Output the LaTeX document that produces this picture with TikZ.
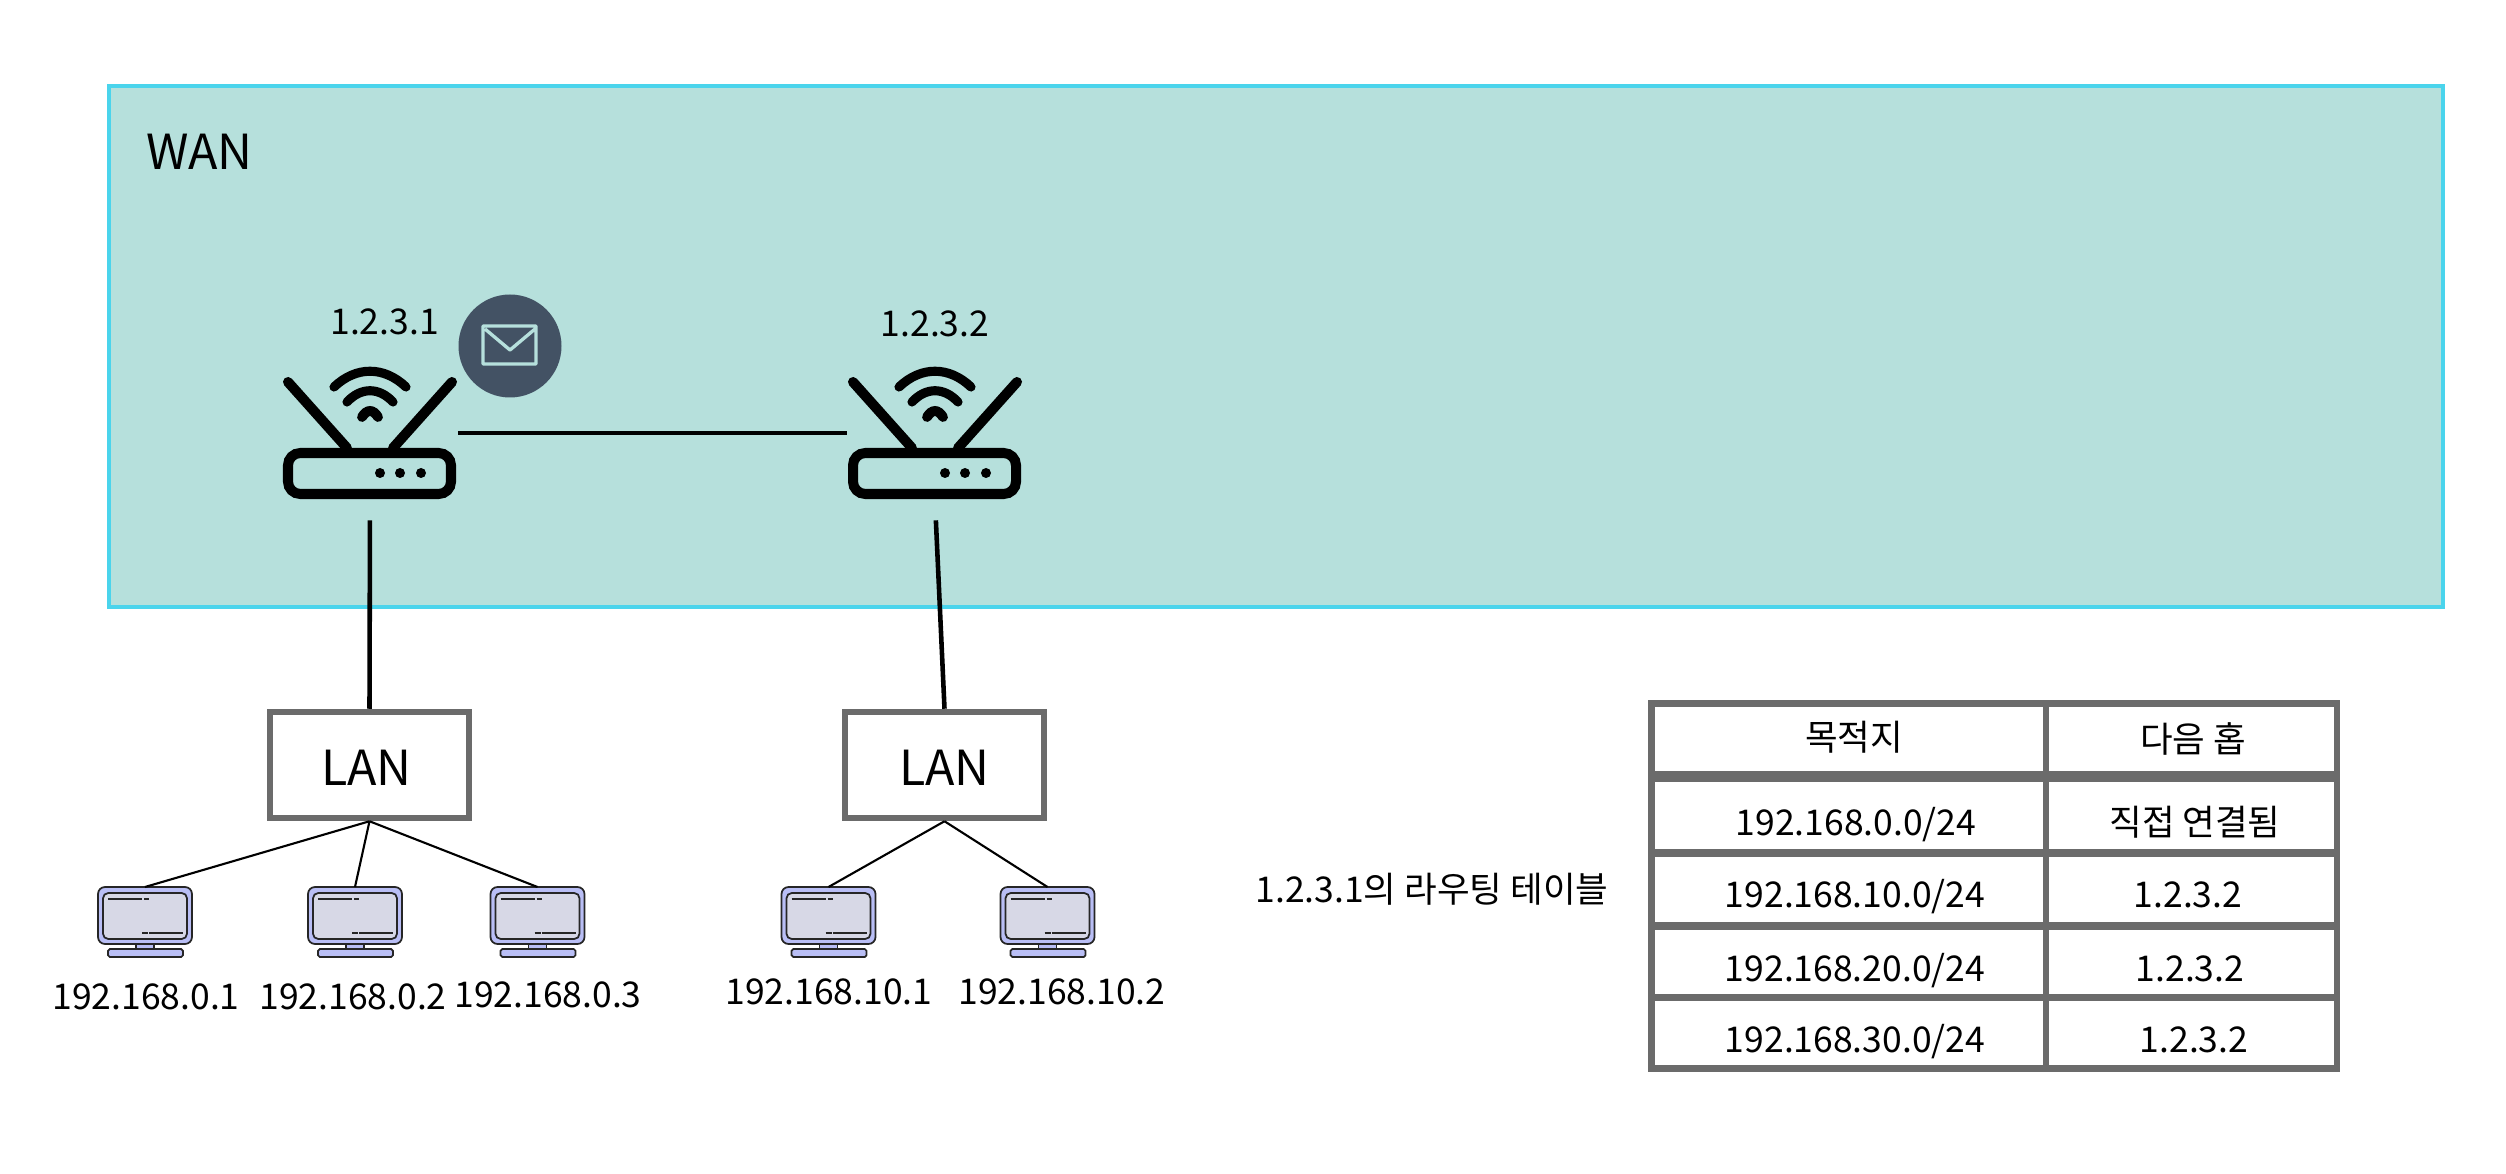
\documentclass[tikz,border=0pt]{standalone}
\usepackage{fontspec}
\setmainfont{Noto Sans CJK KR}
\usetikzlibrary{positioning}
\definecolor{wanfill}{HTML}{B6E0DC}
\definecolor{wanline}{HTML}{4AD4EC}
\definecolor{mailfill}{HTML}{435264}
\definecolor{boxline}{HTML}{6B6B6B}
\definecolor{pcblue}{HTML}{B9BEF5}
\definecolor{pcscreen}{HTML}{D7D8E6}
\newcommand{\routericon}[1]{%
  \begin{scope}[shift={(#1)}, line width=5.7pt, line cap=round, black]
    \draw[rounded corners=7pt] (-82,17) rectangle (81,58);
    \draw (-82,-54) -- (-23,12);
    \draw (82,-54) -- (23,12);
    \fill (10,37) circle (5) (30,37) circle (5) (51,37) circle (5);
    \draw[line width=5.2pt] (-36,-49) .. controls (-14,-70) and (14,-70) .. (36,-49);
    \draw[line width=5.2pt] (-23,-34) .. controls (-9,-49) and (9,-49) .. (23,-34);
    \draw[line width=5.6pt] (-8,-19) .. controls (-3,-27) and (3,-27) .. (8,-19);
  \end{scope}}
\newcommand{\pcicon}[1]{%
  \begin{scope}[shift={(#1)}, line width=1pt, line join=round, draw=black!85]
    \draw[fill=pcblue, rounded corners=4pt] (-47,0) rectangle (47,57);
    \draw[fill=pcscreen, rounded corners=3pt] (-42,6) rectangle (42,52);
    \draw[fill=pcblue] (-9,57) rectangle (9,62);
    \draw[fill=pcblue, rounded corners=1pt] (-37,62) rectangle (38,70);
    \draw[line width=0.7pt] (-37,12) -- (-3,12) (-1,12) -- (4,12);
    \draw[line width=0.7pt] (-3,46) -- (3,46) (4,46) -- (38,46);
  \end{scope}}
\begin{document}
\begin{tikzpicture}[x=0.2mm, y=-0.2mm,
  lanbox/.style={draw=boxline, line width=3.7pt, minimum width=199*0.2mm, minimum height=106*0.2mm, inner sep=0pt, font=\fontsize{27.5}{30}\selectfont, text height=22.8pt, text depth=0pt},
  iplabel/.style={font=\fontsize{20.2}{22}\selectfont, inner sep=0pt, text height=0.73em, text depth=0pt, yshift=-3.4pt},
  cell/.style={fill=white, inner sep=0pt},
  hub/.style={inner sep=0pt, minimum width=175*0.2mm, minimum height=136*0.2mm},
  pcbox/.style={inner sep=0pt, minimum width=94*0.2mm, minimum height=70*0.2mm},
  wire/.style={line width=2.6pt},
  thinwire/.style={line width=1.2pt}]
\useasboundingbox (0,0) rectangle (2506,1174);
% wan
\node[draw=wanline, fill=wanfill, line width=2.4pt, inner sep=0pt, minimum width=2334*0.2mm, minimum height=521*0.2mm] (wan) at (1276,346.5) {};
\node[font=\fontsize{27.5}{30}\selectfont, inner sep=0pt] (wantext) at (199.5,152) {WAN};
% routers
\node[hub] (ra) at (370,433) {};
\node[hub] (rb) at (935,433) {};
\routericon{370,436}
\routericon{935,436}
\node[iplabel] (ipa) at (384.5,322) {1.2.3.1};
\node[iplabel] (ipb) at (935,324) {1.2.3.2};
\node[circle, fill=mailfill, inner sep=0pt, minimum size=103*0.2mm] (mail) at (510,346) {};
\draw[wanfill, line width=1.9pt, line join=round] (483,326) rectangle (536,364) (485,329) -- (510,350) -- (535,329);
\draw[line width=2.2pt] (ra.east) -- (rb.west);
% lan
\node[lanbox] (lana) at (369.5,765) {\hspace*{-3.4pt}LAN};
\node[lanbox] (lanb) at (944.5,765) {LAN};
\draw[wire, shorten <=19*0.2mm] (ra.south) -- (lana.north);
\draw[wire, shorten <=19*0.2mm] (rb.south) -- (lanb.north);
% pcs
\foreach \name/\xx/\ip/\lx/\ly in {pa/145/192.168.0.1/146/997, pb/355/192.168.0.2/353/997, pc/537.5/192.168.0.3/548/995, pd/828.5/192.168.10.1/829/992, pe/1047.5/192.168.10.2/1062/992}{
  \node[pcbox, anchor=north] (\name) at (\xx,887) {};
  \pcicon{\xx,887}
  \node[iplabel] (\name ip) at (\lx,\ly) {\ip};
}
\draw[thinwire] (lana.south) -- (pa.north);
\draw[thinwire] (lana.south) -- (pb.north);
\draw[thinwire] (lana.south) -- (pc.north);
\draw[thinwire] (lanb.south) -- (pd.north);
\draw[thinwire] (lanb.south) -- (pe.north);
% table
\node[iplabel] (tabtitle) at (1432,890) {1.2.3.1의 라우팅 테이블};
\node[fill=boxline, inner sep=0pt, minimum width=692*0.2mm, minimum height=372*0.2mm] (tab) at (1994,886) {};
\foreach \row/\ya/\yb in {ta/706.7/771, tb/782/849, tc/856.7/921.7, td/930/994, te/1001/1065}{
  \node[cell, minimum width=388*0.2mm, minimum height={(\yb-\ya)*0.2mm}] (\row l) at (1848.7,{(\ya+\yb)/2}) {};
  \node[cell, minimum width=284.7*0.2mm, minimum height={(\yb-\ya)*0.2mm}] (\row r) at (2191.3,{(\ya+\yb)/2}) {};
}
\foreach \name/\xx/\yy/\txt in {ha/1854/738/목적지, hb/2193/740/다음 홉, ca/1856/823/{192.168.0.0/24}, cb/2195/823/직접 연결됨, da/1855/895/{192.168.10.0/24}, db/2188/895/1.2.3.2, ea/1855/969/{192.168.20.0/24}, eb/2190/969/1.2.3.2, fa/1855/1040/{192.168.30.0/24}, fb/2194/1040/1.2.3.2}{
  \node[iplabel] (\name) at (\xx,\yy) {\txt};
}
\end{tikzpicture}
\end{document}
